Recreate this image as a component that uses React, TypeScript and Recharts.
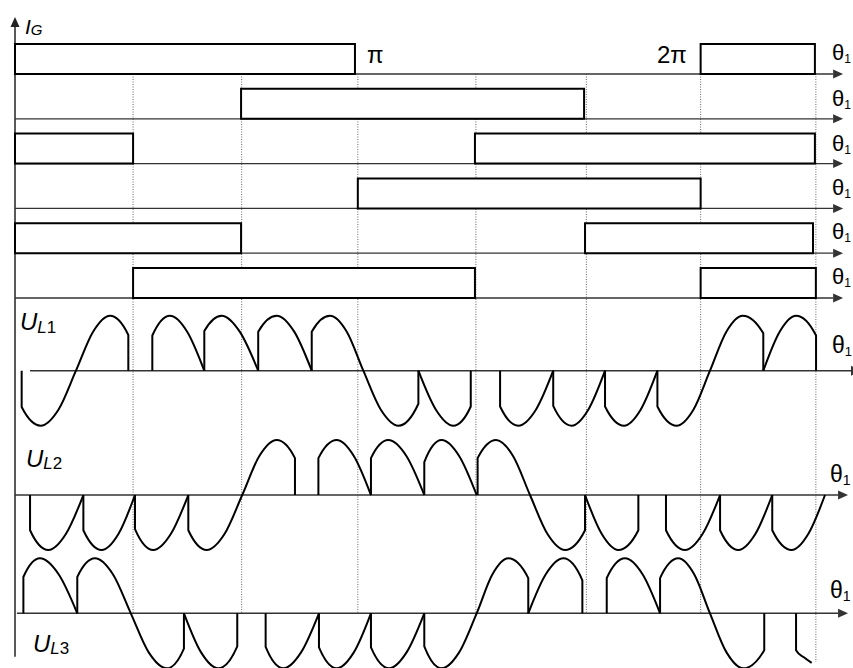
import React from 'react'
import { ComposedChart, Line, XAxis, YAxis, ReferenceArea, ReferenceLine } from 'recharts'

// gate pulses, one list per thyristor row: [start, end] in degrees of θ
const gateRow1 = [[0, 178.5], [360, 420]]
const gateRow2 = [[118.7, 298.8]]
const gateRow3 = [[0, 62], [241.5, 420]]
const gateRow4 = [[180, 360]]
const gateRow5 = [[0, 118.7], [299.3, 419]]
const gateRow6 = [[62, 241.5], [360, 420.5]]
const gateRows = [gateRow1, gateRow2, gateRow3, gateRow4, gateRow5, gateRow6]

// dotted division marks (degrees)
const gridAngles = [62, 119, 180, 242, 300, 360, 420.5]

// output voltages, pieces of [θ, U / Um]
const ul1 = [
  [[3.5, 0], [3.5, -0.66], [13.5, -1], [22.8, -0.71], [32, 0], [41, 0.71], [49.9, 1], [59.5, 0.65], [59.5, 0]],
  [[72.1, 0], [72.1, 0.64], [81.4, 1], [90.4, 0.71], [99.4, 0]],
  [[99.4, 0], [99.4, 0.72], [108.5, 1], [118, 0.71], [127.7, 0]],
  [[127.7, 0], [127.7, 0.71], [137.4, 1], [146.6, 0.71], [155.8, 0]],
  [[155.8, 0], [155.8, 0.71], [165.4, 1], [174.2, 0.71], [182.9, 0], [192.1, -0.71], [201.3, -1], [211.8, -0.6], [211.8, 0]],
  [[211.8, 0], [221, -0.71], [230.1, -1], [239.3, -0.65], [239.3, 0]],
  [[254.7, 0], [254.7, -0.65], [264.3, -1], [273.5, -0.71], [282.6, 0]],
  [[282.6, 0], [282.6, -0.64], [292.3, -1], [301, -0.71], [309.8, 0]],
  [[309.8, 0], [309.8, -0.65], [319.8, -1], [328.5, -0.71], [337.3, 0]],
  [[337.3, 0], [337.3, -0.65], [347.4, -1], [356.2, -0.71], [364.9, 0], [373.5, 0.71], [382.1, 1], [392.9, 0.68], [392.9, 0]],
  [[392.9, 0], [401.5, 0.71], [410.1, 1], [420.6, 0.64], [420.6, 0]],
]

const ul2 = [
  [[7.9, 0], [7.9, -0.64], [17.5, -1], [26.7, -0.71], [35.9, 0]],
  [[35.9, 0], [35.9, -0.64], [45.5, -1], [54.3, -0.71], [63, 0]],
  [[63, 0], [63, -0.62], [72.6, -1], [81.8, -0.71], [91, 0]],
  [[91, 0], [91, -0.64], [100.7, -1], [110, -0.71], [119.3, 0], [128.3, 0.71], [137.4, 1], [147, 0.67], [147, 0]],
  [[159.3, 0], [159.3, 0.67], [168.9, 1], [177.9, 0.71], [186.9, 0]],
  [[186.9, 0], [186.9, 0.67], [196, 1], [205.5, 0.71], [214.9, 0]],
  [[214.9, 0], [214.9, 0.6], [224, 1], [233.2, 0.71], [242.4, 0]],
  [[242.9, 0], [242.9, 0.67], [252.6, 1], [261.5, 0.71], [270.4, 0], [279.6, -0.71], [288.8, -1], [299.3, -0.64], [299.3, 0]],
  [[299.3, 0], [308.1, -0.71], [316.8, -1], [327.3, -0.64], [327.3, 0]],
  [[341.8, 0], [341.8, -0.64], [351.8, -1], [361, -0.71], [370.2, 0]],
  [[370.2, 0], [370.2, -0.64], [379.8, -1], [388.7, -0.71], [397.6, 0]],
  [[397.6, 0], [397.6, -0.64], [407.8, -1], [416.5, -0.71], [425.3, 0]],
]

const ul3 = [
  [[4.4, 0], [4.4, 0.66], [13.1, 1], [22.9, 0.71], [32.7, 0]],
  [[32.7, 0], [32.7, 0.66], [42, 1], [51.4, 0.71], [60.8, 0], [70.2, -0.71], [79.7, -1], [88.7, -0.64], [88.7, 0]],
  [[88.7, 0], [97.7, -0.71], [106.7, -1], [116.7, -0.6], [116.7, 0]],
  [[131.6, 0], [131.6, -0.61], [140.9, -1], [150.2, -0.71], [159.6, 0]],
  [[159.6, 0], [159.6, -0.62], [168.9, -1], [177.9, -0.71], [186.9, 0]],
  [[186.9, 0], [186.9, -0.62], [196.4, -1], [205.6, -0.71], [214.9, 0]],
  [[214.9, 0], [214.9, -0.6], [224, -1], [233.2, -0.71], [242.4, 0], [250.7, 0.71], [259, 1], [269.5, 0.64], [269.5, 0]],
  [[269.5, 0], [278.7, 0.71], [287.9, 1], [297.9, 0.6], [297.9, 0]],
  [[310.7, 0], [310.7, 0.64], [320.3, 1], [329.5, 0.71], [338.7, 0]],
  [[338.7, 0], [338.7, 0.64], [348.3, 1], [356.6, 0.71], [364.9, 0], [373.6, -0.71], [382.4, -1], [393.4, -0.67], [393.4, 0]],
  [[410.1, 0], [410.1, -0.67], [414.2, -0.8], [418.3, -0.9]],
]

const font = "'Liberation Sans', Arial, sans-serif"
const pulseHeight = 0.67

// line with an arrow head at its end
const Arrow = (props: any) => {
  const { x1, y1, x2, y2, stroke, strokeWidth } = props
  const dx = x2 - x1
  const dy = y2 - y1
  const len = Math.hypot(dx, dy) || 1
  const ux = dx / len
  const uy = dy / len
  const bx = x2 - ux * 10
  const by = y2 - uy * 10
  const px = -uy * 4.5
  const py = ux * 4.5
  return (
    <g>
      <line x1={x1} y1={y1} x2={bx} y2={by} stroke={stroke} strokeWidth={strokeWidth} />
      <polygon points={`${x2},${y2} ${bx + px},${by + py} ${bx - px},${by - py}`} fill={stroke} />
    </g>
  )
}

// line whose arrow is cut by the picture edge
const CutArrow = (props: any) => {
  const { x1, y1, x2, y2, stroke, strokeWidth } = props
  return (
    <g>
      <line x1={x1} y1={y1} x2={x2} y2={y2} stroke={stroke} strokeWidth={strokeWidth} />
      <polygon points={`${x2 - 2},${y2 - 5} ${x2},${y2 - 4} ${x2},${y2 + 4} ${x2 - 2},${y2 + 5}`} fill={stroke} />
    </g>
  )
}

const ThetaLabel = ({ x, y, size, sub }: { x: number, y: number, size: number, sub: number }) => (
  <text x={x} y={y} fontSize={size}>θ<tspan fontSize={sub} dy={3}>1</tspan></text>
)

export default function App() {
  const waves: [number[][][], string][] = [[ul1, 'u1'], [ul2, 'u2'], [ul3, 'u3']]
  const rowThetaY = [60, 106, 150.5, 194.5, 239, 283.5]

  return (
    <div style={{ position: 'absolute', left: 0, top: 0, width: 853, height: 668, background: '#fff' }}>
      <ComposedChart width={853} height={668} margin={{ top: 0, right: 0, bottom: 0, left: 15 }}>
        <XAxis type="number" dataKey="t" domain={[0, 440]} hide allowDataOverflow />
        <YAxis yAxisId="g" type="number" domain={[-13.259, 1.652]} hide allowDataOverflow width={0} />
        <YAxis yAxisId="u1" type="number" domain={[-5.405, 6.74]} hide allowDataOverflow width={0} />
        <YAxis yAxisId="u2" type="number" domain={[-3.145, 9.0]} hide allowDataOverflow width={0} />
        <YAxis yAxisId="u3" type="number" domain={[-0.994, 11.151]} hide allowDataOverflow width={0} />

        {gridAngles.map((a, i) => (
          <ReferenceLine
            key={'grid' + i}
            yAxisId="g"
            segment={[{ x: a, y: 0 }, { x: a, y: i === gridAngles.length - 1 ? -13.125 : -12.04 }]}
            stroke="#666"
            strokeWidth={1}
            strokeDasharray="1 1.5"
            ifOverflow="visible"
            zIndex={50}
          />
        ))}

        <ReferenceLine yAxisId="g" segment={[{ x: 0, y: -13.01 }, { x: 0, y: 1.27 }]} stroke="#222" strokeWidth={1.5} shape={Arrow} ifOverflow="visible" zIndex={60} />

        {gateRows.map((_, r) => (
          <ReferenceLine key={'base' + r} yAxisId="g" segment={[{ x: 0, y: -r }, { x: 434.8, y: -r }]} stroke="#333" strokeWidth={1.3} shape={Arrow} ifOverflow="visible" zIndex={60} />
        ))}

        <ReferenceLine yAxisId="u1" segment={[{ x: 7.9, y: 0 }, { x: 440, y: 0 }]} stroke="#333" strokeWidth={1.5} shape={CutArrow} ifOverflow="visible" zIndex={60} />
        <ReferenceLine yAxisId="u2" segment={[{ x: 0, y: 0 }, { x: 437.4, y: 0 }]} stroke="#333" strokeWidth={1.5} shape={Arrow} ifOverflow="visible" zIndex={60} />
        <ReferenceLine yAxisId="u3" segment={[{ x: 1, y: 0 }, { x: 437.4, y: 0 }]} stroke="#333" strokeWidth={1.5} shape={Arrow} ifOverflow="visible" zIndex={60} />

        {gateRows.map((row, r) =>
          row.map(([x1, x2], k) => (
            <ReferenceArea
              key={'pulse' + r + '-' + k}
              yAxisId="g"
              x1={x1}
              x2={x2}
              y1={-r}
              y2={-r + pulseHeight}
              fill="#fff"
              fillOpacity={1}
              stroke="#000"
              strokeWidth={2}
              ifOverflow="visible"
              zIndex={70}
            />
          ))
        )}

        {waves.map(([pieces, axis]) =>
          pieces.map((piece, k) => (
            <Line
              key={axis + '-' + k}
              yAxisId={axis}
              data={piece.map(([t, v]) => ({ t, v }))}
              dataKey="v"
              type="monotone"
              stroke="#000"
              strokeWidth={2}
              dot={false}
              activeDot={false}
              isAnimationActive={false}
              zIndex={400}
            />
          ))
        )}

        <g fontFamily={font} fill="#000">
          <text x={25} y={34} fontSize={21} fontStyle="italic">I<tspan fontSize={15} dy={1}>G</tspan></text>
          <text x={367} y={63} fontSize={24}>π</text>
          <text x={657} y={63} fontSize={24}>2π</text>
          {rowThetaY.map((y, i) => (
            <ThetaLabel key={'th' + i} x={832} y={y} size={22} sub={12} />
          ))}
          <ThetaLabel x={832} y={353} size={23} sub={13} />
          <ThetaLabel x={830} y={482} size={23} sub={14} />
          <ThetaLabel x={830} y={598} size={23} sub={14} />
          <text x={20} y={330} fontSize={24}><tspan fontStyle="italic">U</tspan><tspan fontSize={17} dy={3} fontStyle="italic">L</tspan><tspan fontSize={17}>1</tspan></text>
          <text x={26} y={467} fontSize={24}><tspan fontStyle="italic">U</tspan><tspan fontSize={17} dy={2} fontStyle="italic">L</tspan><tspan fontSize={17}>2</tspan></text>
          <text x={33} y={652} fontSize={24}><tspan fontStyle="italic">U</tspan><tspan fontSize={17} dy={2} fontStyle="italic">L</tspan><tspan fontSize={17}>3</tspan></text>
        </g>
      </ComposedChart>
    </div>
  )
}
